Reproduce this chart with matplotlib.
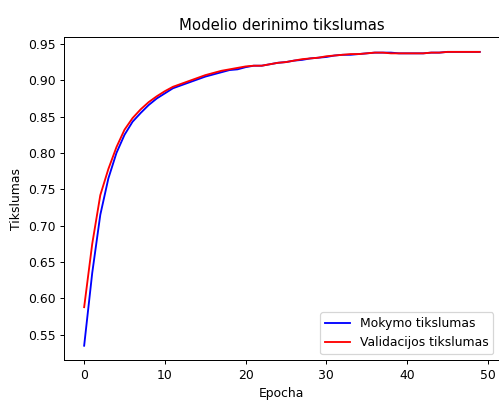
import numpy as np
import matplotlib
matplotlib.use("Agg")
import matplotlib.pyplot as plt

epochs = list(range(50))
train_acc = [0.535, 0.635, 0.715, 0.765, 0.800, 0.825, 0.843, 0.855, 0.866, 0.875,
             0.882, 0.889, 0.893, 0.897, 0.901, 0.905, 0.908, 0.911, 0.914, 0.915,
             0.918, 0.920, 0.920, 0.922, 0.924, 0.925, 0.927, 0.928, 0.930, 0.931,
             0.932, 0.934, 0.935, 0.935, 0.936, 0.937, 0.938, 0.938, 0.938, 0.937,
             0.937, 0.937, 0.937, 0.938, 0.938, 0.939, 0.939, 0.939, 0.939, 0.939]
val_acc = [0.588, 0.675, 0.742, 0.778, 0.808, 0.832, 0.848, 0.860, 0.870, 0.878,
           0.885, 0.891, 0.895, 0.899, 0.903, 0.907, 0.910, 0.913, 0.915, 0.917,
           0.919, 0.920, 0.920, 0.922, 0.924, 0.925, 0.927, 0.929, 0.930, 0.931,
           0.933, 0.934, 0.935, 0.936, 0.936, 0.937, 0.938, 0.938, 0.937, 0.937,
           0.937, 0.937, 0.937, 0.938, 0.938, 0.939, 0.939, 0.939, 0.939, 0.939]

dpi = 89
fig, ax = plt.subplots(figsize = (499 / dpi, 400 / dpi), dpi = dpi)
fig.subplots_adjust(left = 0.129, right = 1.001, top = 0.907, bottom = 0.099)

ax.plot(epochs, train_acc, color = "blue", label = "Mokymo tikslumas")
ax.plot(epochs, val_acc, color = "red", label = "Validacijos tikslumas")

ax.set_title("Modelio derinimo tikslumas")
ax.set_xlabel("Epocha")
ax.set_ylabel("Tikslumas")
ax.legend(loc = "lower right")

fig.savefig("out.png", dpi = dpi)
